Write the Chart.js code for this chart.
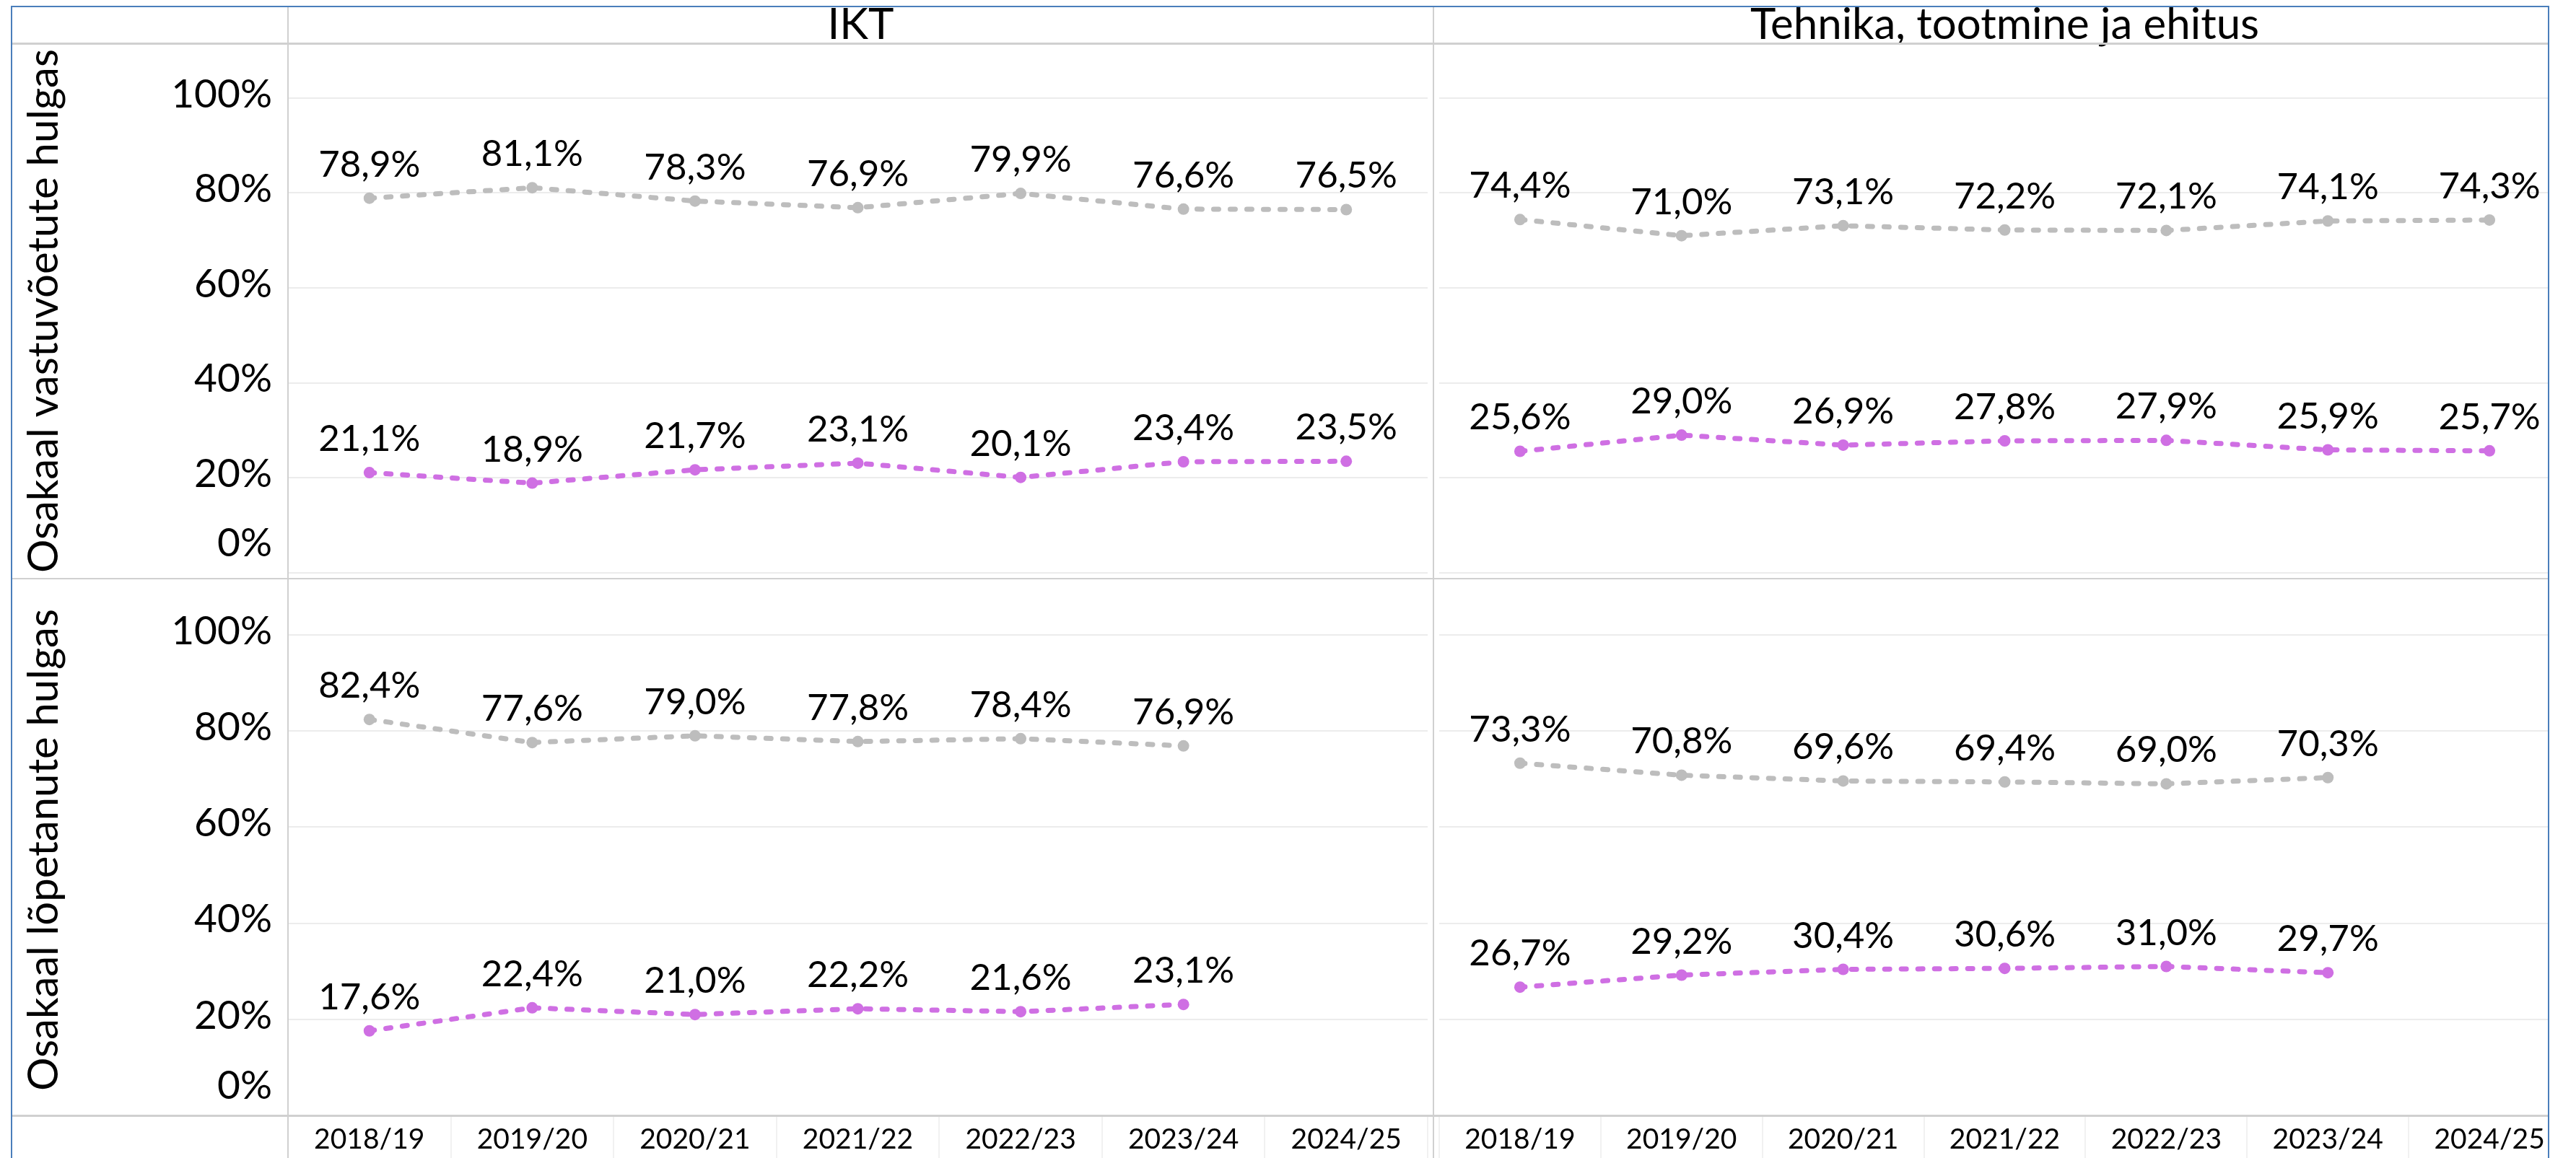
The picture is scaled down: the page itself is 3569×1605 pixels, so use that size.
<!DOCTYPE html>
<html lang="et">
<head>
<meta charset="utf-8">
<title>IKT ja Tehnika, tootmine ja ehitus</title>
<script src="https://cdn.jsdelivr.net/npm/chart.js@4.4.1/dist/chart.umd.min.js"></script>
<style>
  html, body { margin: 0; padding: 0; background: #fff; }
  body { width: 3569px; height: 1605px; position: relative; overflow: hidden; font-family: Lato, "Open Sans", sans-serif; }
  canvas { position: absolute; }
  .line { position: absolute; background: #d0d0d0; z-index: 2; }
  .head { position: absolute; top: 5px; height: 52px; line-height: 52px; text-align: center; font-size: 60px; color: #000; white-space: nowrap; }
  #frame { position: absolute; left: 15px; top: 8px; width: 3513px; height: 1700px; border: 2px solid #4a7ebb; z-index: 4; }
  #cut { position: absolute; left: 3532px; top: 0; width: 40px; height: 1605px; background: #fff; z-index: 3; }
</style>
</head>
<body>

<div class="head" style="left:399px; width:1587px;">IKT</div>
<div class="head" style="left:1986px; width:1583px;">Tehnika, tootmine ja ehitus</div>

<canvas id="ikt1" width="1971" height="742" style="left:15px; top:60px;"></canvas>
<canvas id="teh1" width="1583" height="742" style="left:1986px; top:60px;"></canvas>
<canvas id="ikt2" width="1971" height="803" style="left:15px; top:802px;"></canvas>
<canvas id="teh2" width="1583" height="803" style="left:1986px; top:802px;"></canvas>

<!-- table frame -->
<div class="line" style="left:16px; top:59px; width:3516px; height:3px;"></div>
<div class="line" style="left:16px; top:801px; width:3516px; height:2px;"></div>
<div class="line" style="left:16px; top:1545px; width:3516px; height:3px;"></div>
<div class="line" style="left:398px; top:8px; width:2px; height:1600px;"></div>
<div class="line" style="left:1985px; top:8px; width:2px; height:1600px;"></div>
<div id="cut"></div>
<div id="frame"></div>

<script>
const years = ['2018/19', '2019/20', '2020/21', '2021/22', '2022/23', '2023/24', '2024/25'];
const yTicks = [0, 20, 40, 60, 80, 100];

// osakaal vastuvõetute hulgas
const iktVastuvoetudMehed = [78.9, 81.1, 78.3, 76.9, 79.9, 76.6, 76.5];
const iktVastuvoetudNaised = [21.1, 18.9, 21.7, 23.1, 20.1, 23.4, 23.5];
const tehVastuvoetudMehed = [74.4, 71.0, 73.1, 72.2, 72.1, 74.1, 74.3];
const tehVastuvoetudNaised = [25.6, 29.0, 26.9, 27.8, 27.9, 25.9, 25.7];

// osakaal lõpetanute hulgas (2024/25 puudub)
const iktLopetanudMehed = [82.4, 77.6, 79.0, 77.8, 78.4, 76.9, null];
const iktLopetanudNaised = [17.6, 22.4, 21.0, 22.2, 21.6, 23.1, null];
const tehLopetanudMehed = [73.3, 70.8, 69.6, 69.4, 69.0, 70.3, null];
const tehLopetanudNaised = [26.7, 29.2, 30.4, 30.6, 31.0, 29.7, null];

const grayColor = '#bdbdbd';
const purpleColor = '#cf6fe3';
const fontFamily = 'Lato, "Open Sans", sans-serif';

Chart.defaults.font.family = fontFamily;
Chart.defaults.color = '#000';

function pct(v) {
  return v.toFixed(1).replace('.', ',') + '%';
}

// value labels above every point
const valueLabels = {
  id: 'valueLabels',
  afterDatasetsDraw(chart) {
    const ctx = chart.ctx;
    ctx.save();
    ctx.font = '51px ' + fontFamily;
    ctx.fillStyle = '#000';
    ctx.textAlign = 'center';
    ctx.textBaseline = 'alphabetic';
    chart.data.datasets.forEach((ds, i) => {
      chart.getDatasetMeta(i).data.forEach((pt, j) => {
        const v = ds.data[j];
        if (v === null || v === undefined) return;
        ctx.fillText(pct(v), pt.x, pt.y - 30);
      });
    });
    ctx.restore();
  }
};

function series(label, data, color) {
  return {
    label: label,
    data: data,
    borderColor: color,
    backgroundColor: color,
    borderWidth: 7,
    borderDash: [7, 16],
    borderCapStyle: 'round',
    tension: 0,
    pointRadius: 8,
    pointBorderWidth: 0,
    pointBackgroundColor: color
  };
}

function makeChart(id, mehed, naised, opts) {
  const ctx = document.getElementById(id).getContext('2d');
  const hasY = opts.yTitle !== null;
  return new Chart(ctx, {
    type: 'line',
    data: {
      labels: years,
      datasets: [
        series('Mehed', mehed, grayColor),
        series('Naised', naised, purpleColor)
      ]
    },
    plugins: [valueLabels],
    options: {
      responsive: false,
      animation: false,
      layout: { padding: 0 },
      plugins: {
        legend: { display: false },
        tooltip: { enabled: false }
      },
      scales: {
        x: {
          type: 'category',
          offset: true,
          display: opts.showX,
          border: { display: false },
          grid: {
            offset: true,
            drawOnChartArea: false,
            drawTicks: true,
            tickLength: 59,
            color: '#f1f1f1',
            lineWidth: 2
          },
          ticks: {
            padding: -49,
            maxRotation: 0,
            autoSkip: false,
            font: { size: 39 }
          },
          afterFit(scale) {
            scale.height = opts.showX ? 59 : 0;
            scale.paddingLeft = 0;
            scale.paddingRight = 0;
          }
        },
        y: {
          min: 0,
          max: opts.yMax,
          border: { display: false },
          grid: { color: '#ececec', lineWidth: 2, drawTicks: false },
          title: {
            display: hasY,
            text: opts.yTitle || '',
            font: { size: 58 },
            padding: { top: 11, bottom: 0 }
          },
          ticks: {
            display: hasY,
            autoSkip: false,
            padding: 22,
            labelOffset: -5,
            font: { size: 55, lineHeight: 1.3 },
            // Tableau pushes the 0% label up into the panel
            callback: v => v === 0 ? ['0%', ''] : v + '%'
          },
          afterBuildTicks(scale) {
            scale.ticks = yTicks.map(v => ({ value: v }));
          },
          afterFit(scale) {
            scale.width = hasY ? 384 : 0;
            scale.paddingTop = 0;
            scale.paddingBottom = 0;
          }
        }
      }
    }
  });
}

makeChart('ikt1', iktVastuvoetudMehed, iktVastuvoetudNaised,
  { yTitle: 'Osakaal vastuvõetute hulgas', showX: false, yMax: 110.3 });
makeChart('teh1', tehVastuvoetudMehed, tehVastuvoetudNaised,
  { yTitle: null, showX: false, yMax: 110.3 });
makeChart('ikt2', iktLopetanudMehed, iktLopetanudNaised,
  { yTitle: 'Osakaal lõpetanute hulgas', showX: true, yMax: 110.5 });
makeChart('teh2', tehLopetanudMehed, tehLopetanudNaised,
  { yTitle: null, showX: true, yMax: 110.5 });
</script>
</body>
</html>
